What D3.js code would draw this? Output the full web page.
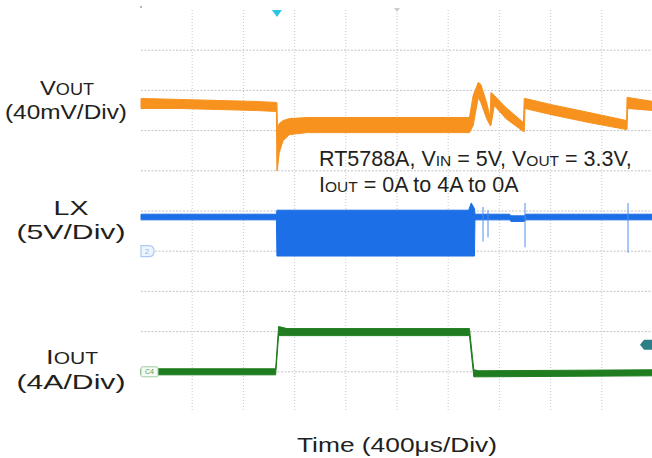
<!DOCTYPE html>
<html>
<head>
<meta charset="utf-8">
<script src="https://cdn.jsdelivr.net/npm/d3@7"></script>
<style>
  body { margin: 0; background: #fff; }
  svg { display: block; font-family: "Liberation Sans", Arial, sans-serif; }
</style>
</head>
<body>
<div id="chart"></div>
<script>
// scope settings: 400us/div, 10 x 10 divisions
const timeTicks = [400, 800, 1200, 1600, 2000, 2400, 2800, 3200, 3600];
const divTicks = [1, 2, 3, 4, 5, 6, 7, 8, 9];

// channel scale (units/div) and zero position (div from bottom)
const voutPerDiv = 40, voutZero = 7;   // mV
const lxPerDiv = 5, lxZero = 4;        // V
const ioutPerDiv = 4, ioutZero = 1;    // A

// traces: [time us, low, high]
const voutBand = [
  [0, 22, 32], [300, 22, 31], [600, 21, 30], [900, 20, 29], [1058, 19, 28],
  [1062, -40, 28], [1066, -38, 2], [1080, -22, 7], [1110, -10, 10],
  [1160, -4, 12], [1300, -2, 13], [2000, -2, 13], [2566, -2, 13],
  [2595, 5, 35], [2635, 33, 48], [2655, 28, 46], [2700, 12, 28],
  [2728, 5, 13], [2734, 5, 38], [2760, 25, 35], [2850, 12, 23],
  [2988, -1, 8], [2994, -1, 32], [3000, 22, 32], [3200, 16, 26],
  [3500, 8, 18], [3794, 1, 10], [3797, 1, 33], [3802, 22, 33], [4000, 20, 29]
];
const lxBand = [
  [0, 3.9, 4.6], [1058, 3.9, 4.6], [1062, -0.6, 5.1], [2560, -0.6, 5.1],
  [2580, -0.6, 6.0], [2605, -0.6, 5.3], [2609, 3.9, 4.6], [2880, 3.9, 4.6],
  [2890, 3.7, 4.4], [2995, 3.7, 4.4], [3005, 3.9, 4.6], [4000, 3.9, 4.6]
];
const lxSpikes = [[2672, 1.2, 5.5], [2711, 1.7, 5.1], [3000, 0.5, 6.0], [3805, -0.2, 6.0]];
const ioutBand = [
  [0, -0.3, 0.3], [1052, -0.3, 0.3], [1075, 3.6, 4.5], [1110, 3.6, 4.4],
  [1140, 3.6, 4.3], [2566, 3.6, 4.3], [2600, -0.5, 0.2], [2640, -0.5, 0.1],
  [4000, -0.4, 0.2]
];

const trigTime = 1062, centerTime = 2000, trigLevel = 2.7; // A

const width = 652, height = 458;
const svg = d3.select("#chart").append("svg")
  .attr("width", width).attr("height", height);

const x = d3.scaleLinear().domain([0, 4000]).range([141, 653]);
const yDiv = d3.scaleLinear().domain([0, 10]).range([412, 10]);

// grid
svg.append("g").selectAll("line").data(timeTicks).join("line")
  .attr("x1", d => x(d)).attr("x2", d => x(d))
  .attr("y1", yDiv(10)).attr("y2", yDiv(0))
  .attr("stroke", "#c8c8c8").attr("stroke-dasharray", "1,2");
svg.append("g").selectAll("line").data(divTicks).join("line")
  .attr("x1", x(0)).attr("x2", x(4000))
  .attr("y1", d => yDiv(d)).attr("y2", d => yDiv(d))
  .attr("stroke", "#c4c4c4").attr("stroke-dasharray", "2,1.5");

function band(perDiv, zero) {
  return d3.area()
    .x(d => x(d[0]))
    .y0(d => yDiv(zero + d[1] / perDiv))
    .y1(d => yDiv(zero + d[2] / perDiv));
}

// traces
svg.append("path").datum(voutBand)
  .attr("d", band(voutPerDiv, voutZero))
  .attr("fill", "#f7921e").attr("stroke", "#f7921e").attr("stroke-width", 1);

svg.append("path").datum(lxBand)
  .attr("d", band(lxPerDiv, lxZero))
  .attr("fill", "#1c6fe6").attr("stroke", "#1c6fe6").attr("stroke-width", 1);
svg.append("g").selectAll("line").data(lxSpikes).join("line")
  .attr("x1", d => x(d[0])).attr("x2", d => x(d[0]))
  .attr("y1", d => yDiv(lxZero + d[1] / lxPerDiv))
  .attr("y2", d => yDiv(lxZero + d[2] / lxPerDiv))
  .attr("stroke", "#4f8ff0").attr("stroke-width", 1);

svg.append("path").datum(ioutBand)
  .attr("d", band(ioutPerDiv, ioutZero))
  .attr("fill", "#1f7d1f").attr("stroke", "#1f7d1f").attr("stroke-width", 1);

// channel ground markers
const lx0 = yDiv(lxZero), io0 = yDiv(ioutZero);
svg.append("path")
  .attr("d", `M${x(0)},${lx0 - 5.5} h8 q5,0 5,5.5 q0,5.5 -5,5.5 h-8 z`)
  .attr("fill", "#eef5fd").attr("stroke", "#a9c9f2").attr("stroke-width", 1.2);
svg.append("text").attr("x", x(0) + 6).attr("y", lx0 + 3)
  .attr("text-anchor", "middle").attr("font-size", 8).attr("fill", "#8fb7ec").text("2");
svg.append("rect").attr("x", x(0)).attr("y", io0 - 5).attr("width", 17).attr("height", 10)
  .attr("rx", 1.5).attr("fill", "#f4fbf4").attr("stroke", "#9fce9f");
svg.append("text").attr("x", x(0) + 8.5).attr("y", io0 + 2.5)
  .attr("text-anchor", "middle").attr("font-size", 7).attr("fill", "#5a9a5a").text("C4");

// trigger level marker
const tl = yDiv(ioutZero + trigLevel / ioutPerDiv);
svg.append("path")
  .attr("d", `M${width},${tl - 5} h-8 l-4,5 l4,5 h8 z`)
  .attr("fill", "#2c7f86");

// trigger position markers
svg.append("path")
  .attr("d", `M${x(trigTime) - 5},10 h10 l-5,7 z`)
  .attr("fill", "#2ec4e8");
svg.append("path")
  .attr("d", `M${x(centerTime) - 3},8 h6 l-3,4 z`)
  .attr("fill", "#cccccc");
svg.append("circle").attr("cx", 141).attr("cy", 7).attr("r", 0.7).attr("fill", "#333");

// labels
function label(xp, yp, main, sub, len) {
  const t = svg.append("text").attr("x", xp).attr("y", yp)
    .attr("text-anchor", "middle").attr("font-size", 21).attr("fill", "#231f20");
  t.append("tspan").text(main);
  if (sub) t.append("tspan").attr("font-size", 16).text(sub);
  if (len) t.attr("textLength", len).attr("lengthAdjust", "spacingAndGlyphs");
  return t;
}
label(67, 95, "V", "OUT", 54);
label(66, 119, "(40mV/Div)", null, 122);
label(71, 215, "LX", null, 35);
label(71, 239, "(5V/Div)", null, 109);
label(72, 364, "I", "OUT", 52);
label(71, 389, "(4A/Div)", null, 109);

const note = svg.append("g").attr("font-size", 21.5).attr("fill", "#231f20");
const l1 = note.append("text").attr("x", 319).attr("y", 166);
l1.append("tspan").text("RT5788A, V");
l1.append("tspan").attr("font-size", 15.5).text("IN");
l1.append("tspan").text(" = 5V, V");
l1.append("tspan").attr("font-size", 15.5).text("OUT");
l1.append("tspan").text(" = 3.3V,");
const l2 = note.append("text").attr("x", 319).attr("y", 192);
l2.append("tspan").text("I");
l2.append("tspan").attr("font-size", 15.5).text("OUT");
l2.append("tspan").text(" = 0A to 4A to 0A");

svg.append("text").attr("x", 397).attr("y", 452)
  .attr("text-anchor", "middle").attr("font-size", 21).attr("fill", "#231f20")
  .attr("textLength", 200).attr("lengthAdjust", "spacingAndGlyphs")
  .text("Time  (400\u03bcs/Div)");
</script>
</body>
</html>
